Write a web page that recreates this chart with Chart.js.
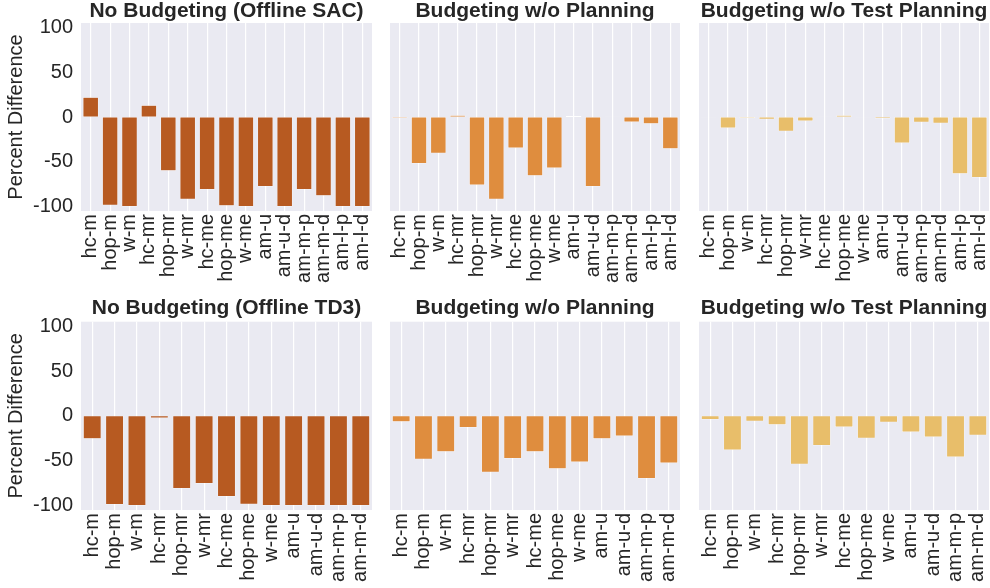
<!DOCTYPE html>
<html><head><meta charset="utf-8">
<script src="https://cdn.jsdelivr.net/npm/chart.js@4.4.0/dist/chart.umd.min.js"></script>
<style>
html,body{margin:0;padding:0;background:#fff;width:990px;height:588px;overflow:hidden;}
.p{position:absolute;}
canvas{display:block;}
</style></head><body>
<div class="p" style="left:0px;top:0px"><canvas id="c1" width="376" height="290" style="width:376px;height:290px"></canvas></div>
<div class="p" style="left:386px;top:0px"><canvas id="c2" width="298" height="290" style="width:298px;height:290px"></canvas></div>
<div class="p" style="left:695px;top:0px"><canvas id="c3" width="295" height="290" style="width:295px;height:290px"></canvas></div>
<div class="p" style="left:0px;top:290px"><canvas id="c4" width="376" height="298" style="width:376px;height:298px"></canvas></div>
<div class="p" style="left:386px;top:290px"><canvas id="c5" width="298" height="298" style="width:298px;height:298px"></canvas></div>
<div class="p" style="left:695px;top:290px"><canvas id="c6" width="295" height="298" style="width:295px;height:298px"></canvas></div>
<script>
// ---- data ----
const sacCategories = ['hc-m','hop-m','w-m','hc-mr','hop-mr','w-mr','hc-me','hop-me','w-me','am-u','am-u-d','am-m-p','am-m-d','am-l-p','am-l-d'];
const td3Categories = ['hc-m','hop-m','w-m','hc-mr','hop-mr','w-mr','hc-me','hop-me','w-me','am-u','am-u-d','am-m-p','am-m-d'];

const sacNoBudgeting      = [22, -98.5, -100, 13, -60, -92, -81, -99, -100, -77.5, -100, -81, -88, -100, -100];
const sacNoPlanning       = [-1.5, -52, -40.5, 2, -76, -92, -34.5, -65.5, -57, 1.2, -77.5, 0.3, -5.5, -7.5, -35.5];
const sacNoTestPlanning   = [-0.3, -12.3, -1.5, -2.5, -16, -4.5, 0.3, 2, -0.3, -1.8, -29, -5.8, -7, -63.5, -67.5];

const td3NoBudgeting      = [-25.5, -99, -100, -2.5, -81, -75.5, -90, -98.5, -100, -100, -100, -100, -100];
const td3NoPlanning       = [-6.5, -48.5, -40, -13, -63, -47.5, -40, -59, -51.5, -25.5, -22.5, -70, -52.5];
const td3NoTestPlanning   = [-4, -38, -6, -10, -54, -33, -12.5, -25, -7, -18, -23.5, -46, -21.5];

const yTickValues = [-100, -50, 0, 50, 100];
const yMin = -105, yMax = 105;

const titles = ['No Budgeting (Offline SAC)', 'Budgeting w/o Planning', 'Budgeting w/o Test Planning',
                'No Budgeting (Offline TD3)', 'Budgeting w/o Planning', 'Budgeting w/o Test Planning'];
const yAxisTitle = 'Percent Difference';

const darkOrange = '#B75A21';
const midOrange = '#DF8D3E';
const lightOrange = '#E8BE6A';

// ---- styling ----
const FONT = '"Liberation Sans", Arial, Helvetica, sans-serif';
const TEXT = '#262626';
const PANEL_BG = '#EAEAF2';

const bgPlugin = {
  id: 'panelBg',
  beforeDraw(chart) {
    const a = chart.chartArea, ctx = chart.ctx;
    ctx.save();
    ctx.fillStyle = PANEL_BG;
    ctx.fillRect(a.left, a.top, a.right - a.left, a.bottom - a.top);
    ctx.restore();
  }
};

// title centred over the plot area (not the whole canvas)
const areaTitlePlugin = {
  id: 'areaTitle',
  afterDraw(chart, args, o) {
    const a = chart.chartArea, ctx = chart.ctx;
    ctx.save();
    ctx.fillStyle = TEXT;
    ctx.font = 'bold 21px ' + FONT;
    ctx.textAlign = 'center';
    ctx.textBaseline = 'middle';
    ctx.fillText(o.text, (a.left + a.right) / 2, o.y);
    ctx.restore();
  }
};

function makeChart(id, labels, values, color, title, opts) {
  const showY = opts.showY;
  return new Chart(document.getElementById(id), {
    type: 'bar',
    data: {
      labels: labels,
      datasets: [{
        data: values,
        backgroundColor: color,
        borderColor: '#ffffff',
        borderWidth: 0.5,
        borderSkipped: false,
        barPercentage: 0.8,
        categoryPercentage: 1.0
      }]
    },
    plugins: [bgPlugin, areaTitlePlugin],
    options: {
      responsive: false,
      animation: false,
      devicePixelRatio: 1,
      layout: { padding: opts.padding },
      plugins: {
        legend: { display: false },
        tooltip: { enabled: false },
        title: { display: false },
        areaTitle: { text: title, y: opts.titleY }
      },
      scales: {
        x: {
          offset: true,
          border: { display: false },
          grid: { display: true, color: '#ffffff', lineWidth: 1.2, drawTicks: false, offset: false },
          ticks: {
            color: TEXT, font: { family: FONT, size: 20 },
            minRotation: 90, maxRotation: 90, autoSkip: false, padding: 3
          },
          afterFit(scale) { scale.height = opts.xHeight; scale.paddingLeft = 0; scale.paddingRight = 0; }
        },
        y: {
          display: showY,
          min: yMin, max: yMax,
          border: { display: false },
          grid: { display: false, drawTicks: false },
          afterBuildTicks(scale) { scale.ticks = yTickValues.map(v => ({ value: v })); },
          ticks: { color: TEXT, font: { family: FONT, size: 20 }, padding: 8 },
          title: {
            display: showY, text: yAxisTitle, color: TEXT,
            font: { family: FONT, size: 20 }, padding: { top: 4, bottom: 0 }
          },
          afterFit(scale) { if (showY) { scale.width = 81; } scale.paddingTop = 0; scale.paddingBottom = 0; }
        }
      }
    }
  });
}

// top row: plot area from y=23 to y=211
makeChart('c1', sacCategories, sacNoBudgeting, darkOrange, titles[0], { showY: true, padding: { top: 23, bottom: 0, left: 0, right: 4 }, titleY: 11.5, xHeight: 79 });
makeChart('c2', sacCategories, sacNoPlanning, midOrange, titles[1], { showY: false, padding: { top: 23, bottom: 0, left: 4, right: 4 }, titleY: 11.5, xHeight: 79 });
makeChart('c3', sacCategories, sacNoTestPlanning, lightOrange, titles[2], { showY: false, padding: { top: 23, bottom: 0, left: 4, right: 1 }, titleY: 11.5, xHeight: 79 });

// bottom row: plot area from y=321.7 to y=510 (canvas offset 290)
makeChart('c4', td3Categories, td3NoBudgeting, darkOrange, titles[3], { showY: true, padding: { top: 31.7, bottom: 0, left: 0, right: 4 }, titleY: 18.3, xHeight: 78 });
makeChart('c5', td3Categories, td3NoPlanning, midOrange, titles[4], { showY: false, padding: { top: 31.7, bottom: 0, left: 4, right: 4 }, titleY: 18.3, xHeight: 78 });
makeChart('c6', td3Categories, td3NoTestPlanning, lightOrange, titles[5], { showY: false, padding: { top: 31.7, bottom: 0, left: 4, right: 1 }, titleY: 18.3, xHeight: 78 });
</script>
</body></html>
